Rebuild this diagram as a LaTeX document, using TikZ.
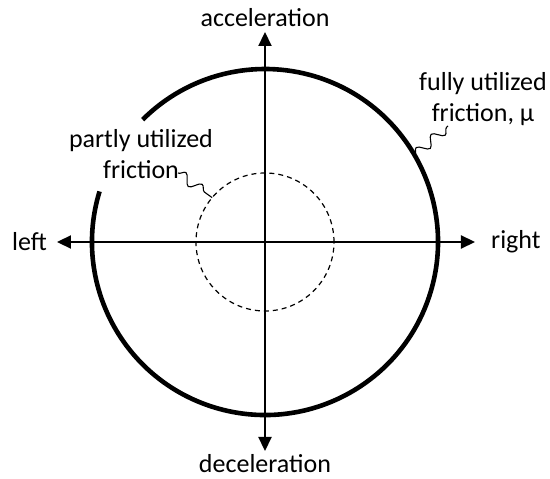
\documentclass[tikz,border=0pt]{standalone}
\usepackage{fontspec}
\setmainfont{Carlito}
\usetikzlibrary{arrows.meta,positioning,decorations.pathmorphing}

\begin{document}
\begin{tikzpicture}[
  x=1pt, y=1pt,
  axis/.style={
    {Triangle[length=14pt,width=13pt]}-{Triangle[length=14pt,width=13pt]},
    line width=2.2pt
  },
  limit/.style={
    line width=4.6pt
  },
  partial/.style={
    line width=1.2pt,
    dash pattern=on 5pt off 4pt
  },
  label/.style={
    inner sep=0pt,
    align=center,
    font=\fontsize{26}{31}\selectfont
  },
  squiggle/.style={
    line width=1.1pt,
    decorate,
    decoration={snake, amplitude=5pt, segment length=20pt}
  }
]
\useasboundingbox (-265,-237) rectangle (285,242);

% --- Friction circles ---
\coordinate (origin) at (0,0);
\draw[limit] (163:173) arc[start angle=163, end angle=495, radius=173];
\draw[partial] (origin) circle[radius=69];

% --- Axes ---
\coordinate (leftend) at (-208,0);
\coordinate (rightend) at (210,0);
\coordinate (upend) at (0,210);
\coordinate (downend) at (0,-209);
\draw[axis] (leftend) -- (rightend);
\draw[axis] (downend) -- (upend);

% Axis labels
\node[label,above=5pt of upend] (accel) {acceleration};
\node[label,below=3pt of downend] (decel) {deceleration};
\node[label,left=10pt of leftend] (left) {left};
\node[label,right=16pt of rightend] (right) {right};

% --- Circle labels ---
\node[label] (fully) at (218,143) {fully utilized\\friction, μ};
\node[label] (partly) at (-124,88) {partly utilized\\friction};

% Leaders
\coordinate (fullytip) at (183,116);
\coordinate (fullyring) at (30:173);
\coordinate (partlytip) at (-87,69);
\coordinate (partlyring) at (140:69);
\draw[squiggle] (fullyring) -- (fullytip);
\draw[squiggle] (partlytip) -- (partlyring);

\end{tikzpicture}
\end{document}
